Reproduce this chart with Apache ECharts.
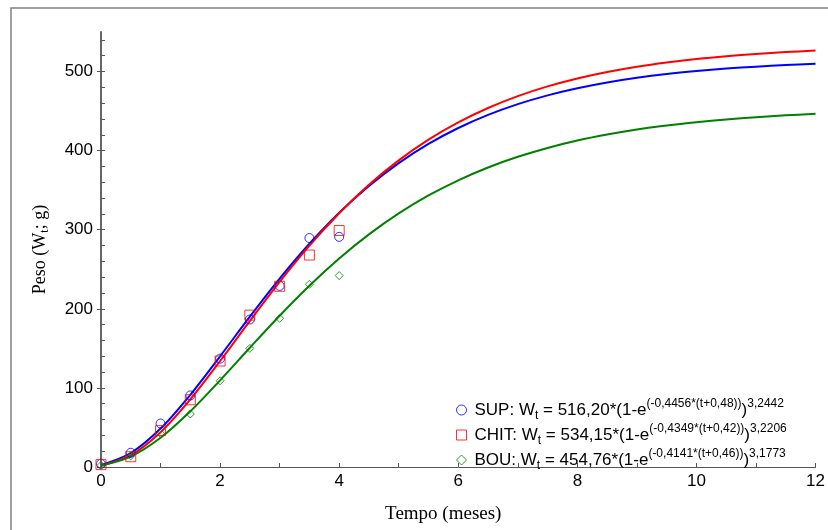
<!DOCTYPE html>
<html><head><meta charset="utf-8">
<script src="https://cdn.jsdelivr.net/npm/echarts@6/dist/echarts.min.js"></script>
<style>html,body{margin:0;padding:0;background:#fff}#c{width:828px;height:530px}</style>
</head><body><div id="c"></div>
<script>
// Observed points (months, grams)
const obsTime = [0, 0.5, 1, 1.5, 2, 2.5, 3, 3.5, 4];
const supObs  = [4, 18, 55, 90.5, 137, 186.5, 229, 289.5, 291];
const chitObs = [3, 13, 46, 85, 134, 192, 228.5, 268, 299];
const bouObs  = [2, 14, 42.5, 67, 109, 150, 188, 231, 242];

// Fitted curves
const fitTime = [0,0.5,1,1.5,2,2.5,3,3.5,4,4.5,5,5.5,6,6.5,7,7.5,8,8.5,9,9.5,10,10.5,11,11.5,12];
const supFit  = [2.5,17.7,48.6,91.3,140.0,190.1,238.2,282.3,321.6,355.4,384.2,408.5,428.6,445.2,458.8,469.9,478.9,486.2,492.1,496.9,500.7,503.8,506.2,508.2,509.8];
const chitFit = [1.7,15.0,44.0,85.5,134.0,184.7,234.1,279.9,320.9,356.9,387.7,413.9,435.7,453.9,468.9,481.2,491.2,499.4,506.1,511.5,515.9,519.4,522.2,524.6,526.5];
const bouFit  = [1.7,13.2,36.9,70.4,109.6,150.8,191.3,229.2,263.6,294.1,320.6,343.3,362.5,378.7,392.2,403.4,412.7,420.3,426.7,431.8,436.0,439.5,442.3,444.6,446.5];

// Axis ticks
const xTicks = [0, 2, 4, 6, 8, 10, 12];
const yTicks = [0, 100, 200, 300, 400, 500];
const yMinorTicks = [0,20,40,60,80,100,120,140,160,180,200,220,240,260,280,300,320,340,360,380,400,420,440,460,480,500,520,540];

// Legend texts
const groups = ['SUP', 'CHIT', 'BOU'];
const legendA = ['516,20', '534,15', '454,76'];
const legendK = ['(-0,4456*(t+0,48))', '(-0,4349*(t+0,42))', '(-0,4141*(t+0,46))'];
const legendB = ['3,2442', '3,2206', '3,1773'];

const colors = ['#0000ff', '#ff0000', '#008000'];
const symbols = ['circle', 'rect', 'diamond'];
const symSizes = [9, 10, 8];
const obsAll = [supObs, chitObs, bouObs];
const fitAll = [supFit, chitFit, bouFit];

const SANS = '"Liberation Sans", Arial, sans-serif';
const SERIF = '"Liberation Serif", "Times New Roman", serif';

const series = [];
groups.forEach((g, i) => {
  series.push({
    name: g + '_fit', type: 'line', smooth: 0.3, showSymbol: false, silent: true,
    data: fitTime.map((t, j) => [t, fitAll[i][j]]),
    lineStyle: { color: colors[i], width: 2 }, z: 2
  });
});
groups.forEach((g, i) => {
  series.push({
    name: g, type: 'scatter', symbol: symbols[i], symbolSize: symSizes[i],
    data: obsTime.map((t, j) => [t, obsAll[i][j]]),
    itemStyle: { color: 'rgba(255,255,255,0)', borderColor: colors[i], borderWidth: 1 }, z: 3
  });
});

const chart = echarts.init(document.getElementById('c'), null, { renderer: 'canvas' });
chart.setOption({
  animation: false,
  backgroundColor: '#fff',
  grid: { left: 101, right: 8, top: 32, bottom: 63, containLabel: false },
  graphic: [{
    type: 'rect', silent: true, z: -10,
    shape: { x: 11, y: 8, width: 900, height: 600 },
    style: { fill: 'none', stroke: '#808080', lineWidth: 1.5 }
  }],
  legend: {
    orient: 'vertical', left: 451, top: 393, itemGap: 1,
    itemWidth: 10, itemHeight: 10,
    data: groups.map((g, i) => ({
      name: g, icon: symbols[i],
      itemStyle: { color: 'rgba(255,255,255,0)', borderColor: colors[i], borderWidth: 1 }
    })),
    formatter: function (name) {
      const i = groups.indexOf(name);
      return '{p|}{n|' + name + ': W}{sub|t}{n| = ' + legendA[i] + '*(1-e}{sup|' + legendK[i] + '}{n|)}{sup|' + legendB[i] + '}';
    },
    textStyle: {
      fontFamily: SANS, fontSize: 17, color: '#000',
      rich: {
        p: { width: 3, lineHeight: 24 },
        n: { fontFamily: SANS, fontSize: 17, lineHeight: 24, color: '#000', verticalAlign: 'middle' },
        sub: { fontFamily: SANS, fontSize: 12, lineHeight: 12, color: '#000', verticalAlign: 'bottom' },
        sup: { fontFamily: SANS, fontSize: 12, lineHeight: 10, color: '#000', verticalAlign: 'top' }
      }
    }
  },
  xAxis: {
    type: 'value', min: 0, max: 12, interval: 2,
    axisLine: { onZero: false, lineStyle: { color: '#555', width: 1 } },
    axisTick: { inside: true, length: 4, lineStyle: { color: '#555' } },
    minorTick: { show: true, splitNumber: 2, length: 4, lineStyle: { color: '#555' } },
    splitLine: { show: false },
    axisLabel: { customValues: xTicks, fontFamily: SANS, fontSize: 17, color: '#000', margin: 6 },
    name: 'Tempo (meses)', nameLocation: 'middle', nameGap: 38,
    nameTextStyle: { fontFamily: SERIF, fontSize: 19, color: '#000', padding: [0, 30, 0, 0] }
  },
  yAxis: [{
    type: 'value', min: 0, max: 550,
    axisLine: { onZero: false, lineStyle: { color: '#666', width: 2 } },
    axisTick: { customValues: yMinorTicks, inside: true, length: 4, lineStyle: { color: '#555' } },
    splitLine: { show: false },
    axisLabel: { customValues: yTicks, fontFamily: SANS, fontSize: 17, color: '#000', margin: 8 },
    name: '{n|Peso (W}{s|t}{n|; g)}', nameLocation: 'middle', nameGap: 50,
    nameTextStyle: {
      color: '#000', padding: [0, 0, 0, 0],
      rich: {
        n: { fontFamily: SERIF, fontSize: 18, color: '#000', lineHeight: 22, verticalAlign: 'middle' },
        s: { fontFamily: SERIF, fontSize: 12, color: '#000', lineHeight: 12, verticalAlign: 'bottom' }
      }
    }
  }, {
    type: 'value', min: 0, max: 550, position: 'left',
    axisLine: { show: false },
    axisTick: { customValues: yTicks, inside: false, length: 4, lineStyle: { color: '#555' } },
    axisLabel: { show: false },
    splitLine: { show: false }
  }],
  series: series
});
</script>
</body></html>
